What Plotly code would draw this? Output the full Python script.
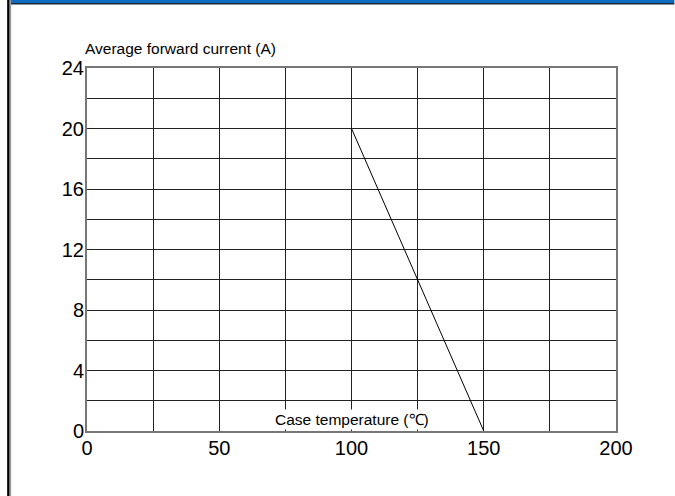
import plotly.graph_objects as go

# Data
temp_c = [100, 150]
current_a = [20, 0]
x_ticks = [0, 50, 100, 150, 200]
y_ticks = [0, 4, 8, 12, 16, 20, 24]
x_title = "Case temperature (℃)"
y_title = "Average forward current (A)"

fig = go.Figure()
fig.add_trace(go.Scatter(x=temp_c, y=current_a, mode="lines",
                         line=dict(color="black", width=1), showlegend=False,
                         hoverinfo="skip"))

W, H = 675, 496
L, R, T, B = 86.5, 58.5, 68, 65
pw, ph = W - L - R, H - T - B


def px(x):
    return (x - L) / pw


def py(y):
    return (H - B - y) / ph


tick_font = dict(size=20, family="Liberation Sans, Arial")

fig.update_layout(
    width=W, height=H,
    margin=dict(l=L, r=R, t=T, b=B),
    paper_bgcolor="white", plot_bgcolor="white",
    font=dict(family="Liberation Sans, Arial", color="black"),
    xaxis=dict(range=[0, 200], tickvals=x_ticks, ticks="", showgrid=True,
               gridcolor="#222", gridwidth=1,
               minor=dict(dtick=25, showgrid=True, gridcolor="#222", gridwidth=1),
               showline=True, linecolor="#777", linewidth=2, mirror=True,
               zeroline=False, tickfont=tick_font, ticklabelstandoff=-2,
               fixedrange=True),
    yaxis=dict(range=[0, 24], tickvals=y_ticks, ticks="", showgrid=True,
               gridcolor="#222", gridwidth=1,
               minor=dict(dtick=2, showgrid=True, gridcolor="#222", gridwidth=1),
               showline=True, linecolor="#777", linewidth=2, mirror=True,
               zeroline=False, tickfont=tick_font, ticklabelstandoff=-3,
               fixedrange=True),
    annotations=[
        dict(text=y_title, xref="paper", yref="paper", x=0, y=1,
             xanchor="left", yanchor="bottom", yshift=9, xshift=-4,
             showarrow=False, font=dict(size=15.5)),
        dict(text=x_title, xref="x", yref="y", x=100, y=0,
             xanchor="center", yanchor="bottom", yshift=1, showarrow=False,
             bgcolor="white", borderpad=1, font=dict(size=15.5)),
    ],
    shapes=[
        dict(type="rect", xref="paper", yref="paper", x0=px(10), x1=px(675),
             y0=py(3), y1=py(0), fillcolor="#0B6CC0", line=dict(width=0),
             layer="above"),
        dict(type="rect", xref="paper", yref="paper", x0=px(10), x1=px(675),
             y0=py(4.5), y1=py(3), fillcolor="#1C2A3A", line=dict(width=0),
             layer="above"),
        dict(type="rect", xref="paper", yref="paper", x0=px(6.5), x1=px(9),
             y0=py(496), y1=py(0), fillcolor="black", line=dict(width=0),
             layer="above"),
        dict(type="rect", xref="paper", yref="paper", x0=px(9), x1=px(10.5),
             y0=py(496), y1=py(0), fillcolor="#999", line=dict(width=0),
             layer="above"),
    ],
)

fig.write_html("out.html", config={"displayModeBar": False},
               post_script="document.body.style.margin='0';document.body.style.overflow='hidden';")
